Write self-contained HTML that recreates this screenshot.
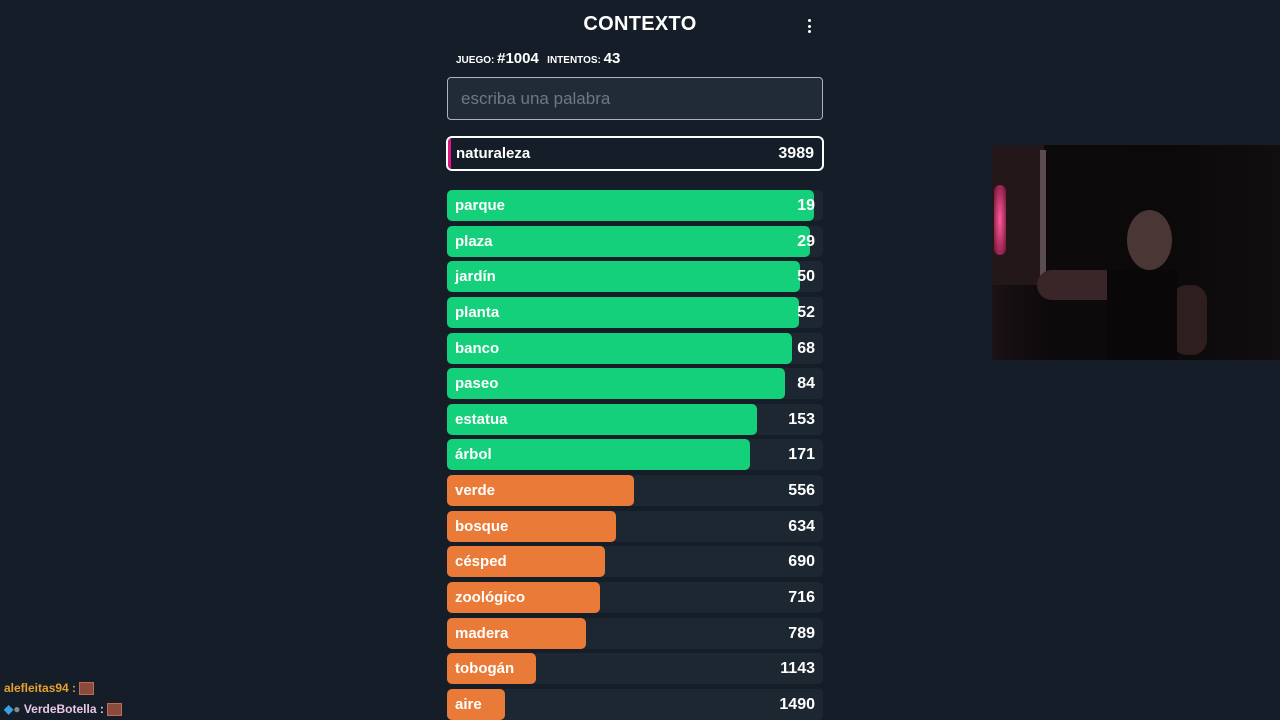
<!DOCTYPE html>
<html><head><meta charset="utf-8"><style>
body{margin:0;width:1280px;height:720px;overflow:hidden;background:#151e28;font-family:"Liberation Sans",sans-serif;color:#fff;position:relative}
.title{position:absolute;left:0;width:1280px;top:13px;text-align:center;font-weight:bold;font-size:20px;letter-spacing:0.3px}
.menu{position:absolute;left:804px;top:19px;width:10px}
.menu i{display:block;width:3px;height:3px;background:#fff;border-radius:50%;margin:0 auto 2.5px}
.info{position:absolute;left:456px;top:50px;font-size:10px;font-weight:bold}
.info b{font-size:15px}
.input{position:absolute;left:447px;top:77px;width:376px;height:43px;border:1px solid #aab4bf;border-radius:4px;background:#202b36;box-sizing:border-box;color:#6d7884;font-size:17px;line-height:41px;padding-left:13px}
.row{position:absolute;left:447px;width:376px;height:31px;border-radius:5px;background:#1d2731}
.bar{position:absolute;left:0;top:0;height:31px;border-radius:5px}
.lbl{position:absolute;left:8px;top:0;line-height:31px;font-weight:bold;font-size:15px}
.val{position:absolute;right:8px;top:0;line-height:31px;font-weight:bold;font-size:16px}
.cur{position:absolute;left:446px;top:136px;width:378px;height:35px;border:2px solid #fff;border-radius:6px;box-sizing:border-box;background:#151e28;overflow:hidden}
.cam{position:absolute;left:992px;top:145px;width:288px;height:215px;background:linear-gradient(90deg,#1a1214 0%,#0d0a0b 20%,#0b0909 60%,#120e0f 100%);overflow:hidden}
.chat{position:absolute;left:4px;font-size:12px;font-weight:bold}
.emo{display:inline-block;width:13px;height:11px;background:#8a4a3c;vertical-align:middle;border:1px solid #c06a55}
</style></head><body>
<div class="title">CONTEXTO</div>
<div class="menu"><i></i><i></i><i></i></div>
<div class="info">JUEGO: <b>#1004</b>&nbsp;&nbsp; INTENTOS: <b>43</b></div>
<div class="input">escriba una palabra</div>
<div class="cur">
 <div style="position:absolute;left:0;top:0;width:3px;height:100%;background:#e0167e"></div>
 <div class="lbl" style="line-height:31px">naturaleza</div><div class="val" style="line-height:31px">3989</div>
</div>
<div id="list"></div>
<div class="cam">
 <div style="position:absolute;left:0;top:0;width:52px;height:140px;background:#23171a"></div>
 <div style="position:absolute;left:2px;top:40px;width:12px;height:70px;background:radial-gradient(#ff5a9a,#6a1030);border-radius:6px"></div>
 <div style="position:absolute;left:48px;top:5px;width:6px;height:130px;background:#5a4c52"></div>
 <div style="position:absolute;left:135px;top:65px;width:45px;height:60px;border-radius:50%;background:#4a3634"></div>
 <div style="position:absolute;left:45px;top:125px;width:120px;height:30px;border-radius:15px;background:#3a2628"></div>
 <div style="position:absolute;left:180px;top:140px;width:35px;height:70px;border-radius:15px;background:#2e1e20"></div>
 <div style="position:absolute;left:115px;top:125px;width:70px;height:90px;background:#090707"></div>
</div>
<div class="chat" style="top:681px;color:#e5a12a">alefleitas94 : <span class="emo"></span></div>
<div class="chat" style="top:702px;color:#e8c8e8"><span style="color:#3aa0e0">◆</span><span style="color:#888">●</span> VerdeBotella : <span class="emo"></span></div>
<script>
const words=["parque","plaza","jardín","planta","banco","paseo","estatua","árbol","verde","bosque","césped","zoológico","madera","tobogán","aire"];
const ranks=[19,29,50,52,68,84,153,171,556,634,690,716,789,1143,1490];
function widthOf(r){return 376*Math.exp(-r/795);}
function colorOf(r){return r<300?"#14d07a":r<1500?"#ea7a37":"#e0167e";}
const list=document.getElementById('list');
words.forEach((w,i)=>{
 const row=document.createElement('div');row.className='row';
 
 
 row.style.top=(190+i*35.64)+'px';
 const bar=document.createElement('div');bar.className='bar';
 
 
 bar.style.width=widthOf(ranks[i])+'px';bar.style.background=colorOf(ranks[i]);
 const l=document.createElement('div');l.className='lbl';l.textContent=w;
 
 
 const v=document.createElement('div');v.className='val';v.textContent=ranks[i];
 
 
 row.append(bar,l,v);list.appendChild(row);
});
</script>
</body></html>
